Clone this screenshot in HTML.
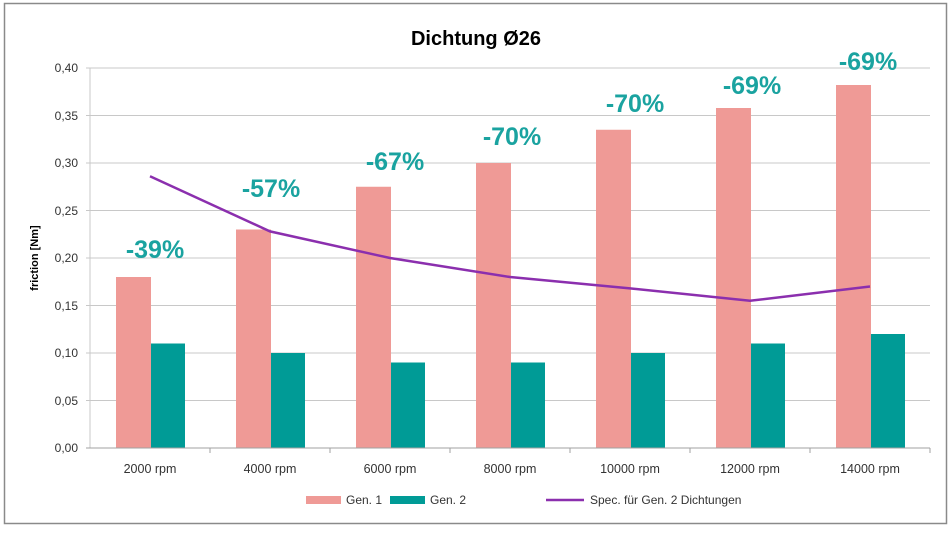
<!DOCTYPE html>
<html><head><style>body{margin:0;background:#fff}</style></head><body>
<svg width="952" height="531" xmlns="http://www.w3.org/2000/svg" font-family="Liberation Sans, sans-serif">
<rect x="4.5" y="3.5" width="942" height="520" fill="#fff" stroke="#8a8a8a" stroke-width="1.5"/>
<text x="476" y="45" text-anchor="middle" font-size="20" font-weight="bold">Dichtung Ø26</text>
<g stroke="#c8c8c8" stroke-width="1">
<line x1="86" y1="68" x2="930" y2="68"/><line x1="86" y1="115.5" x2="930" y2="115.5"/>
<line x1="86" y1="163" x2="930" y2="163"/><line x1="86" y1="210.5" x2="930" y2="210.5"/>
<line x1="86" y1="258" x2="930" y2="258"/><line x1="86" y1="305.5" x2="930" y2="305.5"/>
<line x1="86" y1="353" x2="930" y2="353"/><line x1="86" y1="400.5" x2="930" y2="400.5"/>
<line x1="90" y1="68" x2="90" y2="448"/>
</g>
<g font-size="12" text-anchor="end" fill="#333">
<text x="78" y="72">0,40</text><text x="78" y="120">0,35</text><text x="78" y="167">0,30</text>
<text x="78" y="215">0,25</text><text x="78" y="262">0,20</text><text x="78" y="310">0,15</text>
<text x="78" y="357">0,10</text><text x="78" y="405">0,05</text><text x="78" y="452">0,00</text>
</g>
<text transform="translate(38,258) rotate(-90)" text-anchor="middle" font-size="11" font-weight="bold">friction [Nm]</text>
<g fill="#ef9a96">
<rect x="116" y="277" width="35" height="171"/><rect x="236" y="229.5" width="35" height="218.5"/>
<rect x="356" y="186.75" width="35" height="261.25"/><rect x="476" y="163" width="35" height="285"/>
<rect x="596" y="129.75" width="35" height="318.25"/><rect x="716" y="108" width="35" height="340"/>
<rect x="836" y="85" width="35" height="363"/>
</g>
<g fill="#009b96">
<rect x="151" y="343.5" width="34" height="104.5"/><rect x="271" y="353" width="34" height="95"/>
<rect x="391" y="362.5" width="34" height="85.5"/><rect x="511" y="362.5" width="34" height="85.5"/>
<rect x="631" y="353" width="34" height="95"/><rect x="751" y="343.5" width="34" height="104.5"/>
<rect x="871" y="334" width="34" height="114"/>
</g>
<g stroke="#a0a0a0"><line x1="86" y1="448" x2="930" y2="448"/>
<line x1="210" y1="448" x2="210" y2="453"/><line x1="330" y1="448" x2="330" y2="453"/><line x1="450" y1="448" x2="450" y2="453"/><line x1="570" y1="448" x2="570" y2="453"/><line x1="690" y1="448" x2="690" y2="453"/><line x1="810" y1="448" x2="810" y2="453"/><line x1="930" y1="448" x2="930" y2="453"/></g>
<polyline points="150,176.3 270,231.4 390,258 510,277 630,288.4 750,300.75 870,286.5" fill="none" stroke="#8b2fae" stroke-width="2.5"/>
<g font-size="12.5" text-anchor="middle" fill="#333">
<text x="150" y="473">2000 rpm</text><text x="270" y="473">4000 rpm</text><text x="390" y="473">6000 rpm</text>
<text x="510" y="473">8000 rpm</text><text x="630" y="473">10000 rpm</text><text x="750" y="473">12000 rpm</text><text x="870" y="473">14000 rpm</text>
</g>
<g font-size="25" font-weight="bold" fill="#1aa3a0" text-anchor="middle">
<text x="155" y="258">-39%</text><text x="271" y="197">-57%</text><text x="395" y="170">-67%</text>
<text x="512" y="145">-70%</text><text x="635" y="112">-70%</text><text x="752" y="94">-69%</text><text x="868" y="70">-69%</text>
</g>
<rect x="306" y="496" width="35" height="8" fill="#ef9a96"/>
<text x="346" y="504" font-size="12" fill="#333">Gen. 1</text>
<rect x="390" y="496" width="35" height="8" fill="#009b96"/>
<text x="430" y="504" font-size="12" fill="#333">Gen. 2</text>
<line x1="546" y1="500" x2="584" y2="500" stroke="#8b2fae" stroke-width="2.5"/>
<text x="590" y="504" font-size="12" fill="#333">Spec. für Gen. 2 Dichtungen</text>
</svg>
</body></html>
